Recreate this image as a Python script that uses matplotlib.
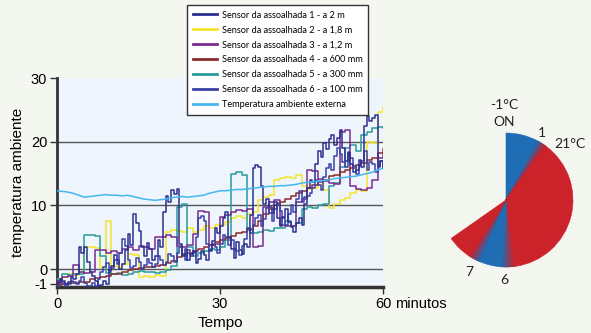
import numpy as np
import matplotlib
matplotlib.use("Agg")
import matplotlib.pyplot as plt
from matplotlib.patches import Wedge
from matplotlib.colors import to_rgb

# ── dados ─────────────────────────────────────────────────────────────────────
minutos = list(range(61))
meio_minutos = [k / 2 for k in range(121)]

# sensores 1 e 6 lidos a cada 30 s (mais ruidosos)
sensor1 = [-2.2, -1.6, -1.8, -2.3, -2.0, -1.2, -1.5, -0.8, 3.5, 2.6, 3.4, 1.2,
           -0.5, -1.0, -1.8, -2.6, -2.5, -1.9, -2.3, -0.2, 0.5, 2.2, 1.5, 0.1,
           0.8, 3.0, 5.5, 3.8, 8.6, 7.2, 6.0, 3.5, 2.0, 4.1, 3.2, 1.5,
           2.0, 4.6, 3.5, 9.0, 11.5, 10.6, 12.4, 11.8, 12.6, 4.0, 2.0, 3.1,
           1.5, 2.4, 2.8, 0.9, 1.6, 2.9, 2.2, 1.4, 3.0, 4.4, 6.5, 5.7,
           6.8, 8.1, 9.0, 5.0, 3.2, 1.8, 4.2, 3.0, 2.4, 4.0, 3.4, 8.5,
           15.8, 16.3, 16.0, 13.0, 10.2, 11.0, 9.8, 8.8, 10.5, 8.0, 6.8, 8.2,
           9.5, 7.4, 6.6, 5.9, 7.2, 8.0, 7.0, 10.2, 12.8, 14.0, 13.6, 16.5,
           18.5, 17.6, 19.8, 18.9, 20.5, 21.0, 19.5, 20.6, 21.8, 19.0, 17.0, 18.2,
           16.5, 15.3, 15.6, 17.2, 16.0, 22.5, 24.0, 23.2, 23.8, 24.2, 16.2, 17.0,
           16.0]
sensor6 = [-2.6, -2.0, -2.2, -2.6, -2.4, -1.9, -2.0, -2.4, -1.8, -1.2, -2.2, -2.7,
           -2.6, -2.2, -2.7, -1.5, -0.5, 0.3, 1.0, -0.4, 0.2, 1.4, 0.8, 2.5,
           4.8, 3.6, 1.5, 0.2, 0.5, 1.8, 1.2, 0.0, 0.6, 1.6, 1.0, 0.3,
           0.8, 2.1, 1.5, 0.6, 1.2, 2.4, 2.0, 1.1, 2.6, 3.4, 2.2, 1.5,
           3.0, 2.0, 2.5, 5.0, 8.0, 8.4, 7.5, 4.0, 2.8, 3.9, 3.5, 2.6,
           4.0, 5.4, 5.0, 3.8, 4.5, 3.2, 2.8, 2.2, 3.6, 4.8, 6.5, 5.6,
           7.0, 8.0, 8.5, 6.8, 7.8, 9.6, 8.8, 7.6, 9.5, 10.4, 9.2, 8.0,
           7.0, 8.6, 10.0, 9.0, 11.0, 12.2, 10.5, 11.3, 11.5, 12.0, 12.8, 14.0,
           13.2, 12.5, 14.5, 15.8, 16.5, 15.6, 17.8, 19.0, 18.0, 16.8, 16.0, 18.4,
           17.5, 16.2, 15.0, 16.4, 17.0, 18.5, 15.5, 16.8, 16.5, 15.2, 16.0, 16.9,
           15.8]
sensor2 = [-1.5, -1.2, -0.8, -0.9, -0.5, 3.5, 3.5, 3.3, 0.3, 7.5, 0.5, 0.4, 0.8,
           2.4, 2.2, -1.2, -1.0, -1.2, -0.9, -1.0, 5.8, 6.2, 6.0, 5.8, 6.5, 5.9, 6.2,
           6.8, 6.4, 7.0, 6.9, 7.4, 8.0, 8.3, 8.1, 8.6, 9.0, 10.8, 11.4, 11.6, 14.0,
           14.3, 14.5, 14.3, 14.8, 13.0, 12.6, 12.7, 13.2, 12.4, 9.6, 10.2, 10.8, 11.2,
           12.0, 12.4, 12.3, 20.0, 19.8, 24.6, 25.4]
sensor3 = [-1.8, -1.2, -1.0, 0.6, -0.5, -0.6, -0.4, 3.0, 3.0, 2.6, 2.8, 2.5, 3.2,
           3.5, 3.0, 3.6, 3.4, 3.2, 5.0, 5.1, 5.3, 5.0, 3.6, 3.4, 3.8, 5.5, 9.2, 9.0,
           3.8, 4.0, 8.2, 8.5, 9.0, 9.3, 9.2, 9.5, 3.5, 3.6, 9.8, 10.6, 10.9, 7.0, 6.7,
           6.8, 10.5, 11.0, 15.5, 15.4, 14.2, 13.8, 13.5, 13.4, 21.5, 21.8, 13.0, 12.6,
           12.5, 12.8, 14.0, 17.5, 18.0]
sensor4 = [-2.5, -2.4, -2.2, -2.2, -2.0, -2.0, -1.6, -1.4, -1.2, -1.0, -0.8, -0.7,
           -0.4, -0.2, 0.1, 0.2, 0.3, 0.4, 0.5, 0.7, 0.9, 1.3, 1.9, 2.4, 2.6, 2.9, 3.1,
           3.4, 3.8, 4.2, 4.5, 4.9, 5.2, 5.6, 5.9, 6.3, 6.8, 7.6, 8.6, 9.4, 10.0, 10.6,
           11.0, 11.5, 12.0, 12.3, 12.8, 13.2, 13.6, 14.0, 14.6, 14.8, 15.2, 15.5, 15.8,
           16.3, 16.7, 17.1, 17.5, 18.3, 18.8]
sensor5 = [-1.5, -0.8, -0.9, -0.7, -0.8, 5.3, 5.3, 5.2, 2.0, -0.6, -0.8, -0.6, -0.9,
           -0.8, -0.5, -0.3, -0.5, -0.4, -0.6, -0.5, -0.2, 0.5, 9.8, 10.2, 3.5, 2.0,
           2.5, 2.8, 3.2, 3.0, 3.4, 4.5, 15.0, 15.2, 14.8, 6.2, 5.6, 5.8, 6.1, 6.0, 6.5,
           6.4, 7.5, 6.8, 7.2, 9.5, 9.8, 9.6, 10.0, 10.3, 13.0, 13.5, 16.0, 19.0, 19.5,
           18.5, 21.0, 21.5, 22.2, 22.3, 22.2]
externa = [12.3, 12.2, 12.1, 11.9, 11.6, 11.3, 11.4, 11.5, 11.6, 11.7, 11.6, 11.6,
           11.5, 11.6, 11.4, 11.2, 11.0, 10.9, 10.8, 10.9, 11.0, 11.2, 11.3, 11.4, 11.3,
           11.4, 11.5, 11.6, 11.9, 12.1, 12.3, 12.3, 12.4, 12.5, 12.5, 12.6, 12.7, 12.8,
           12.9, 13.0, 13.0, 13.1, 13.1, 13.2, 13.3, 13.5, 13.6, 13.7, 13.8, 13.9, 14.0,
           14.2, 14.3, 14.4, 14.5, 14.6, 14.8, 15.0, 15.2, 15.6, 15.8]

rotulos = ["Sensor da assoalhada 1 - a 2 m",
           "Sensor da assoalhada 2 - a 1,8 m",
           "Sensor da assoalhada 3 - a 1,2 m",
           "Sensor da assoalhada 4 - a 600 mm",
           "Sensor da assoalhada 5 - a 300 mm",
           "Sensor da assoalhada 6 - a 100 mm",
           "Temperatura ambiente externa"]
series = [sensor1, sensor2, sensor3, sensor4, sensor5, sensor6, externa]
tempos = [meio_minutos, minutos, minutos, minutos, minutos, meio_minutos, minutos]
cores = ["#2d2f8e", "#f4e52c", "#7b2b8d", "#8c2b2b", "#2b9a9a", "#3d41a6", "#45b7ef"]

# relógio: (início, fim) em graus no sentido horário a partir das 12 h
setores = [(0, 28), (28, 37), (37, 172), (172, 185), (185, 203), (203, 214), (214, 235)]
AZUL = "#1f6db5"
VERM = "#cc2229"
setor_cores = [(AZUL, AZUL), (AZUL, VERM), (VERM, VERM), (VERM, AZUL),
               (AZUL, AZUL), (AZUL, VERM), (VERM, VERM)]

FUNDO = "#f4f6f0"
PLOT_BG = "#eef5fc"
ESCURO = "#333333"

# ── figura ────────────────────────────────────────────────────────────────────
W, H = 591, 333
fig = plt.figure(figsize=(W / 100, H / 100), dpi=100, facecolor=FUNDO)
plt.rcParams["font.family"] = ["Liberation Sans", "DejaVu Sans"]

ax = fig.add_axes([57 / W, (H - 287) / H, 326 / W, 209 / H])
ax.set_facecolor(PLOT_BG)

for y in (0, 10, 20):
    ax.axhline(y, color="#555555", lw=1.0, zorder=1)

ordem = [1, 4, 2, 3, 5, 0, 6]
linhas = {}
for i in ordem:
    ds = "default" if i == 6 else "steps-post"
    (ln,) = ax.plot(tempos[i], series[i], color=cores[i], lw=1.1, drawstyle=ds, zorder=3)
    linhas[i] = ln

ax.set_xlim(0, 60)
ax.set_ylim(-2.8, 30)
ax.set_xticks([0, 30, 60])
ax.set_xticklabels(["0", "30", "60"], fontsize=10.5)
ax.set_yticks([-2.3, 0, 10, 20, 30])
ax.set_yticklabels(["-1", "0", "10", "20", "30"], fontsize=10.5)
ax.tick_params(direction="out", length=5, width=1, color=ESCURO, pad=2)
for s in ("top", "right"):
    ax.spines[s].set_visible(False)
ax.spines["left"].set_linewidth(2)
ax.spines["bottom"].set_linewidth(2.5)
ax.spines["left"].set_color(ESCURO)
ax.spines["bottom"].set_color(ESCURO)

ax.annotate("minutos", xy=(60, 0), xycoords=("data", "axes fraction"),
            xytext=(8.5, -7.5), textcoords="offset points",
            ha="left", va="top", fontsize=10.5)
ax.set_xlabel("Tempo", fontsize=11, labelpad=3.5)
ax.set_ylabel("temperatura ambiente", fontsize=11, labelpad=4)

leg = fig.legend([linhas[i] for i in range(7)], rotulos,
                 loc="upper left", bbox_to_anchor=(187 / W, 1 - 5 / H),
                 prop={"family": ["Lato"], "size": 6.6},
                 frameon=True, fancybox=False, framealpha=1,
                 handlelength=2.7, handletextpad=0.5, labelspacing=0.65,
                 borderpad=0.6, borderaxespad=0)
leg.get_frame().set_edgecolor(ESCURO)
leg.get_frame().set_linewidth(1.0)
for ln in leg.get_lines():
    ln.set_linewidth(2)

# ── relógio (setores) ─────────────────────────────────────────────────────────
ax2 = fig.add_axes([430 / W, (H - 300) / H, 161 / W, 205 / H])
ax2.set_xlim(-76, 85)
ax2.set_ylim(-100, 105)
ax2.set_aspect("equal")
ax2.axis("off")
R = 67

for (a, b), (c1, c2) in zip(setores, setor_cores):
    if c1 == c2:
        ax2.add_patch(Wedge((0, 0), R, 90 - b, 90 - a, fc=c1, ec=c1, lw=0.4))
    else:
        n = 30
        r1, r2 = np.array(to_rgb(c1)), np.array(to_rgb(c2))
        passos = np.linspace(a, b, n + 1)
        for k in range(n):
            f = (k + 0.5) / n
            cor = (1 - f) * r1 + f * r2
            ax2.add_patch(Wedge((0, 0), R, 90 - passos[k + 1], 90 - passos[k],
                                fc=cor, ec=cor, lw=0.4))

rotulo_font = dict(family=["Lato"], fontsize=10, color="#222222", ha="center", va="center")
ax2.text(-2, 95, "-1°C", **rotulo_font)
ax2.text(-2, 78, "ON", **rotulo_font)
ax2.text(36, 67, "1", **rotulo_font)
ax2.text(64, 56, "21°C", **rotulo_font)
ax2.text(-37, -72, "7", **rotulo_font)
ax2.text(-2, -80, "6", **rotulo_font)

fig.savefig("out.png", dpi=100, facecolor=FUNDO)
